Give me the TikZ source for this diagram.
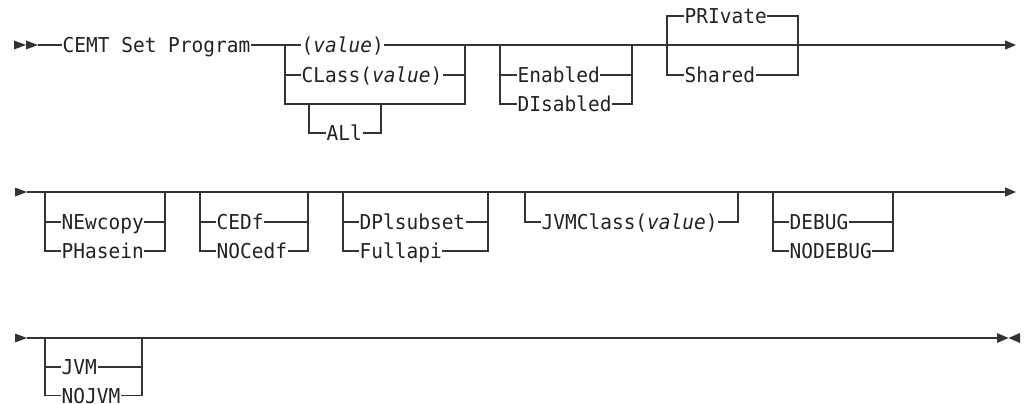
\documentclass[tikz,border=0pt]{standalone}
\usepackage{fontspec}
\setmonofont[FakeStretch=0.95]{DejaVu Sans Mono}
\usepackage{tikz}
\usetikzlibrary{positioning, arrows.meta, calc}
\usepackage{xcolor}
\definecolor{railgray}{HTML}{333333}
\definecolor{inkgray}{HTML}{222222}

\begin{document}
\begin{tikzpicture}[
    x=1pt, y=-1pt,
    opt/.style={anchor=west, inner xsep=0.5pt, inner ysep=0pt, text height=15pt, text depth=0pt, text=inkgray, font=\ttfamily\fontsize{20.5}{24}\selectfont},
    rail/.style={draw=railgray, line width=1.3pt},
    tip/.style={-{Triangle[length=11pt, width=9pt]}}
]
\useasboundingbox (0,0) rectangle (1026,404);

% Riga 1
\coordinate (st1) at (38,45);
\coordinate (aL) at (285,45);
\coordinate (aR) at (465,45);
\coordinate (allL) at (309,104);
\coordinate (allR) at (381,104);
\coordinate (bL) at (500,45);
\coordinate (bR) at (632,45);
\coordinate (cL) at (667,45);
\coordinate (cR) at (798,45);
\coordinate (en1) at (1016,45);

\node[opt] (cemt) at (62,45) {CEMT Set Program};
\node[opt] (val) at (301,45) {(\textit{value})};
\node[opt] (cls) at (301,75) {CLass(\textit{value})};
\node[opt] (all) at (326,133) {ALl};
\node[opt] (enab) at (517,75) {Enabled};
\node[opt] (disab) at (517,104) {DIsabled};
\node[opt] (priv) at (684,16) {PRIvate};
\node[opt] (shar) at (684,75) {Shared};

\fill[railgray] (14,40.5) -- (26,45) -- (14,49.5) -- cycle;
\fill[railgray] (26,40.5) -- (38,45) -- (26,49.5) -- cycle;
\draw[rail] (st1) -- (cemt.west);
\draw[rail] (cemt.east) -- (aL) -- (val.west);
\draw[rail] (val.east) -- (aR);
\draw[rail] (aL) |- (cls.west);
\draw[rail] (cls.east) -| (aR);
\draw[rail] (aL) -- ++(0,59) -| (aR);
\draw[rail] (allL) |- (all.west);
\draw[rail] (all.east) -| (allR);
\draw[rail] (bL) |- (enab.west);
\draw[rail] (enab.east) -| (bR);
\draw[rail] (bL) |- (disab.west);
\draw[rail] (disab.east) -| (bR);
\draw[rail] (cL) |- (priv.west);
\draw[rail] (priv.east) -| (cR);
\draw[rail] (cL) |- (shar.west);
\draw[rail] (shar.east) -| (cR);
\draw[rail, tip] (aR) -- (en1);

% Riga 2
\coordinate (st2) at (27,192);
\coordinate (dL) at (45,192);
\coordinate (dR) at (165,192);
\coordinate (eL) at (200,192);
\coordinate (eR) at (308,192);
\coordinate (fL) at (343,192);
\coordinate (fR) at (488,192);
\coordinate (gL) at (525,192);
\coordinate (gR) at (738,192);
\coordinate (hL) at (773,192);
\coordinate (hR) at (893,192);
\coordinate (en2) at (1016,192);

\node[opt] (newc) at (61,222) {NEwcopy};
\node[opt] (phas) at (61,251) {PHasein};
\node[opt] (cedf) at (216,222) {CEDf};
\node[opt] (nocedf) at (216,251) {NOCedf};
\node[opt] (dpl) at (359,222) {DPlsubset};
\node[opt] (full) at (359,251) {Fullapi};
\node[opt] (jvmc) at (541,222) {JVMClass(\textit{value})};
\node[opt] (debug) at (789,222) {DEBUG};
\node[opt] (nodebug) at (789,251) {NODEBUG};

\fill[railgray] (15,187.5) -- (27,192) -- (15,196.5) -- cycle;
\draw[rail, tip] (st2) -- (en2);
\draw[rail] (dL) |- (newc.west);
\draw[rail] (newc.east) -| (dR);
\draw[rail] (dL) |- (phas.west);
\draw[rail] (phas.east) -| (dR);
\draw[rail] (eL) |- (cedf.west);
\draw[rail] (cedf.east) -| (eR);
\draw[rail] (eL) |- (nocedf.west);
\draw[rail] (nocedf.east) -| (eR);
\draw[rail] (fL) |- (dpl.west);
\draw[rail] (dpl.east) -| (fR);
\draw[rail] (fL) |- (full.west);
\draw[rail] (full.east) -| (fR);
\draw[rail] (gL) |- (jvmc.west);
\draw[rail] (jvmc.east) -| (gR);
\draw[rail] (hL) |- (debug.west);
\draw[rail] (debug.east) -| (hR);
\draw[rail] (hL) |- (nodebug.west);
\draw[rail] (nodebug.east) -| (hR);

% Riga 3
\coordinate (st3) at (27,338);
\coordinate (iL) at (45,338);
\coordinate (iR) at (142,338);
\coordinate (en3) at (997,338);

\node[opt] (jvm) at (61,367) {JVM};
\node[opt] (nojvm) at (61,395.5) {NOJVM};

\fill[railgray] (15,333.5) -- (27,338) -- (15,342.5) -- cycle;
\draw[rail] (st3) -- (en3);
\draw[railgray, line width=2.2pt] (147,338) -- (170,338);
\draw[rail] (iL) |- (jvm.west);
\draw[rail] (jvm.east) -| (iR);
\draw[rail] (iL) |- (nojvm.west);
\draw[rail] (nojvm.east) -| (iR);
\fill[railgray] (997,333) -- (1008.5,338) -- (997,343) -- cycle;
\fill[railgray] (1020,333) -- (1008.5,338) -- (1020,343) -- cycle;

\end{tikzpicture}
\end{document}
